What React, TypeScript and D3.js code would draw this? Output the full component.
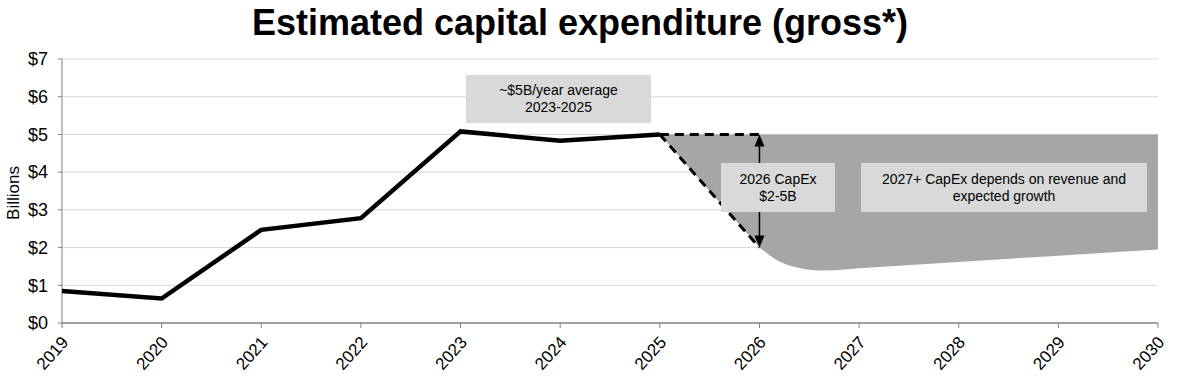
import React from "react";
import * as d3 from "d3";

const years = [2019, 2020, 2021, 2022, 2023, 2024, 2025];
const capex = [0.85, 0.65, 2.47, 2.78, 5.08, 4.83, 5.0];
const xTicks = [2019, 2020, 2021, 2022, 2023, 2024, 2025, 2026, 2027, 2028, 2029, 2030];
const yTicks = [0, 1, 2, 3, 4, 5, 6, 7];
const highCase: [number, number][] = [[2025, 5.0], [2026, 5.0]];
const lowCase: [number, number][] = [[2025, 5.0], [2026, 2.0]];
const rangeTop: [number, number][] = [[2025, 5.0], [2030, 5.0]];
const rangeBottom: [number, number][] = [
  [2026, 2.0], [2026.2, 1.63], [2026.4, 1.46], [2026.65, 1.39], [2027, 1.45], [2030, 1.95],
];
const title = "Estimated capital expenditure (gross*)";

const W = 1186, H = 382;
const left = 62, right = 1158, top = 59, bottom = 323;
const FONT = "'Liberation Sans', Arial, sans-serif";

export default function App() {
  const x = d3.scaleLinear().domain([2019, 2030]).range([left, right]);
  const y = d3.scaleLinear().domain([0, 7]).range([bottom, top]);
  const line = d3.line<[number, number]>().x(d => x(d[0])).y(d => y(d[1]));
  const mainPts: [number, number][] = years.map((yr, i) => [yr, capex[i]]);

  const bottomRev = d3.line<[number, number]>().x(d => x(d[0])).y(d => y(d[1])).curve(d3.curveMonotoneX)([...rangeBottom].reverse()) || "";
  const areaD =
    `M${x(rangeTop[0][0])},${y(rangeTop[0][1])}L${x(rangeTop[1][0])},${y(rangeTop[1][1])}` +
    bottomRev.replace(/^M/, "L") +
    `L${x(lowCase[0][0])},${y(lowCase[0][1])}Z`;

  const ax = x(2026);
  const arrowTop = y(5), arrowBot = y(2);

  return (
    <svg width={W} height={H} style={{ position: "absolute", left: 0, top: 0, background: "#fff" }}>
      <rect x={0} y={0} width={W} height={H} fill="#fff" />
      <text x={580} y={35} textAnchor="middle" fontFamily={FONT} fontWeight="bold" fontSize={36} fill="#000">{title}</text>

      {/* gridlines */}
      {yTicks.filter(t => t > 0).map(t => (
        <line key={t} x1={left} x2={right} y1={y(t)} y2={y(t)} stroke="#d9d9d9" strokeWidth={1} />
      ))}

      {/* shaded range */}
      <path d={areaD} fill="#a6a6a6" />

      {/* axes */}
      <line x1={left} x2={left} y1={top} y2={bottom} stroke="#808080" strokeWidth={1} />
      <line x1={left} x2={right} y1={bottom} y2={bottom} stroke="#808080" strokeWidth={1.5} />
      {yTicks.map(t => (
        <g key={t}>
          <line x1={left - 4} x2={left} y1={y(t)} y2={y(t)} stroke="#808080" />
          <text x={48} y={y(t)} dy="0.35em" textAnchor="end" fontFamily={FONT} fontSize={18} fill="#000">{`$${t}`}</text>
        </g>
      ))}
      {xTicks.map(t => (
        <g key={t}>
          <line x1={x(t)} x2={x(t)} y1={bottom} y2={bottom + 5} stroke="#808080" />
          <text transform={`translate(${x(t) + 3},${bottom + 16}) rotate(-48)`} textAnchor="end" fontFamily={FONT} fontSize={17} dy="0.35em" fill="#000">{t}</text>
        </g>
      ))}
      <text transform={`translate(19,${y(3.5) + 2}) rotate(-90)`} textAnchor="middle" fontFamily={FONT} fontSize={17} fill="#000">Billions</text>

      {/* main line */}
      <path d={line(mainPts) || ""} fill="none" stroke="#000" strokeWidth={4.5} strokeLinejoin="miter" />

      {/* dashed scenarios */}
      <path d={line(highCase) || ""} fill="none" stroke="#000" strokeWidth={3} strokeDasharray="9,6" />
      <path d={line(lowCase) || ""} fill="none" stroke="#000" strokeWidth={3} strokeDasharray="9,6" />

      {/* double arrow */}
      <line x1={ax} x2={ax} y1={arrowTop + 10} y2={arrowBot - 10} stroke="#000" strokeWidth={1.5} />
      <path d={`M${ax},${arrowTop}L${ax - 5},${arrowTop + 12}L${ax + 5},${arrowTop + 12}Z`} fill="#000" />
      <path d={`M${ax},${arrowBot}L${ax - 5},${arrowBot - 12}L${ax + 5},${arrowBot - 12}Z`} fill="#000" />

      {/* annotation boxes */}
      <rect x={466} y={75} width={185} height={48} fill="#d9d9d9" />
      <text x={558.5} y={95} textAnchor="middle" fontFamily={FONT} fontSize={14} fill="#000">~$5B/year average</text>
      <text x={558.5} y={112} textAnchor="middle" fontFamily={FONT} fontSize={14} fill="#000">2023-2025</text>

      <rect x={721} y={163} width={114} height={49} fill="#d9d9d9" />
      <text x={778} y={184} textAnchor="middle" fontFamily={FONT} fontSize={14} fill="#000">2026 CapEx</text>
      <text x={778} y={201} textAnchor="middle" fontFamily={FONT} fontSize={14} fill="#000">$2-5B</text>

      <rect x={861} y={163} width={286} height={49} fill="#d9d9d9" />
      <text x={1004} y={184} textAnchor="middle" fontFamily={FONT} fontSize={14} fill="#000">2027+ CapEx depends on revenue and</text>
      <text x={1004} y={201} textAnchor="middle" fontFamily={FONT} fontSize={14} fill="#000">expected growth</text>
    </svg>
  );
}
